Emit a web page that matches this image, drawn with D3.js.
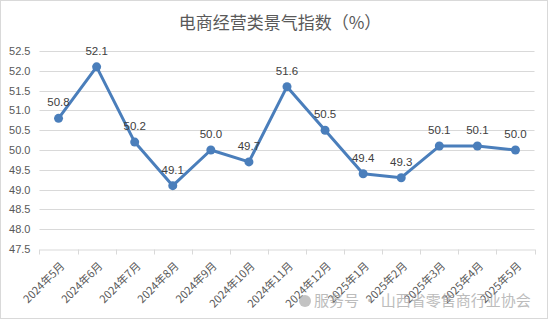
<!DOCTYPE html>
<html><head><meta charset="utf-8">
<script src="https://cdn.jsdelivr.net/npm/d3@7"></script>
<style>
html,body{margin:0;padding:0;background:#fff;}
svg{display:block;font-family:"Microsoft YaHei","Noto Sans CJK SC",sans-serif;}
</style></head>
<body>
<svg id="c" width="550" height="322"></svg>
<script>
const categories = ["2024年5月","2024年6月","2024年7月","2024年8月","2024年9月","2024年10月","2024年11月","2024年12月","2025年1月","2025年2月","2025年3月","2025年4月","2025年5月"];
const values = [50.8,52.1,50.2,49.1,50.0,49.7,51.6,50.5,49.4,49.3,50.1,50.1,50.0];
const yTicks = [47.5,48.0,48.5,49.0,49.5,50.0,50.5,51.0,51.5,52.0,52.5];
const title = "电商经营类景气指数（%）";
const watermark = "服务号 · 山西省零售商行业协会";

const svg = d3.select("#c");
svg.append("rect").attr("x",0.5).attr("y",0.5).attr("width",547).attr("height",318)
  .attr("fill","#fff").attr("stroke","#d9d9d9");

const x = d3.scaleBand().domain(categories).range([39.5,534.5]);
const y = d3.scaleLinear().domain([47.5,52.5]).range([249,51]);

svg.append("text").attr("x",280).attr("y",29).attr("text-anchor","middle")
  .attr("font-size",17).attr("fill","#595959").text(title);

// gridlines
svg.append("g").selectAll("line").data(yTicks.slice(1)).join("line")
  .attr("x1",39.5).attr("x2",534.5)
  .attr("y1",d=>Math.round(y(d))+0.5).attr("y2",d=>Math.round(y(d))+0.5)
  .attr("stroke","#d9d9d9").attr("stroke-width",1);

// y axis labels
const yAxis = d3.axisLeft(y).tickValues(yTicks).tickFormat(d3.format(".1f")).tickSize(0).tickPadding(9);
const gy = svg.append("g").attr("transform","translate(39.5,0)").call(yAxis);
gy.select(".domain").remove();
gy.selectAll("text").attr("font-size",11).attr("fill","#595959").attr("font-family","'Liberation Sans',sans-serif");

// x axis
const xAxis = d3.axisBottom(x).tickSize(0).tickFormat("");
const gx = svg.append("g").attr("transform",`translate(0,${Math.round(y(47.5))+0.5})`).call(xAxis);
gx.select(".domain").attr("stroke","#d9d9d9");
gx.selectAll(".tick").remove();
const bounds = categories.map(c=>x(c)).concat([x.range()[1]]);
gx.selectAll("line.t").data(bounds).join("line").attr("class","t")
  .attr("x1",d=>Math.round(d)+0.5).attr("x2",d=>Math.round(d)+0.5).attr("y1",0).attr("y2",5)
  .attr("stroke","#d9d9d9");
svg.append("g").selectAll("text").data(categories).join("text")
  .attr("transform",d=>`translate(${x(d)+x.bandwidth()/2+4},${264}) rotate(-45)`)
  .attr("text-anchor","end").attr("dy","0.35em")
  .attr("font-size",11).attr("fill","#595959").text(d=>d);

// line
const cx = (d,i)=>x(categories[i])+x.bandwidth()/2;
svg.append("path").datum(values)
  .attr("d",d3.line().x((d,i)=>cx(d,i)).y(d=>y(d)))
  .attr("fill","none").attr("stroke","#4a7ebb").attr("stroke-width",3).attr("stroke-linejoin","round");
svg.append("g").selectAll("circle").data(values).join("circle")
  .attr("cx",(d,i)=>cx(d,i)).attr("cy",d=>y(d)).attr("r",4.5).attr("fill","#4a7ebb");
svg.append("g").selectAll("text").data(values).join("text")
  .attr("x",(d,i)=>cx(d,i)).attr("y",d=>y(d)-12)
  .attr("text-anchor","middle").attr("font-size",11.5).attr("fill","#404040")
  .attr("font-family","'Liberation Sans',sans-serif")
  .text(d=>d3.format(".1f")(d));

// watermark
const wm = svg.append("g").attr("opacity",0.75);
wm.append("circle").attr("cx",305).attr("cy",301).attr("r",6).attr("fill","#b0b0b0");
wm.append("text").attr("x",314).attr("y",306).attr("font-size",15).attr("fill","#a6a6a6").text(watermark);
</script>
</body></html>
